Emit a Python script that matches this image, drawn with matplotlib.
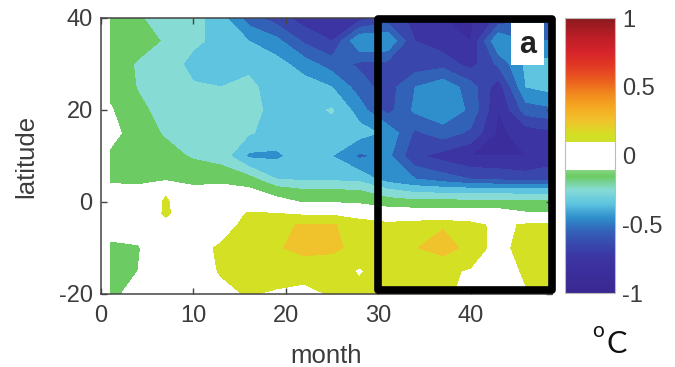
import numpy as np
import matplotlib
matplotlib.use("Agg")
import matplotlib.pyplot as plt
from matplotlib.colors import LinearSegmentedColormap, Normalize
from matplotlib.patches import Rectangle
import matplotlib.cm as cm

plt.rcParams['font.family'] = ['Liberation Sans', 'DejaVu Sans']
plt.rcParams['axes.unicode_minus'] = False

# ---- data: temperature anomaly (oC) by month and latitude ----
months = [1, 4, 7, 10, 13, 16, 19, 22, 25, 28, 31, 34, 37, 40, 43, 46, 49]
latitudes = [-20, -15, -10, -5, -2.5, 0, 2.5, 5, 10, 15, 20, 25, 30, 35, 40]

lat_m20 = [-0.12, -0.07, -0.02, 0.00, 0.07, 0.11, 0.08, 0.07, 0.11, 0.13, 0.13, 0.12, 0.13, 0.05, 0.02, 0.09, 0.12]
lat_m15 = [-0.13, -0.10, -0.05, 0.04, 0.11, 0.16, 0.17, 0.14, 0.14, 0.09, 0.16, 0.17, 0.12, 0.09, 0.03, 0.12, 0.14]
lat_m10 = [-0.13, -0.11, 0.00, 0.05, 0.12, 0.16, 0.19, 0.23, 0.22, 0.17, 0.18, 0.195, 0.24, 0.17, 0.05, 0.16, 0.16]
lat_m5 = [-0.03, -0.04, 0.06, 0.02, 0.03, 0.15, 0.18, 0.21, 0.21, 0.15, 0.14, 0.17, 0.19, 0.15, 0.06, 0.12, 0.12]
lat_m2p5 = [-0.04, -0.03, 0.12, 0.00, 0.03, 0.11, 0.10, 0.08, 0.08, 0.05, -0.04, -0.04, -0.04, -0.04, -0.05, -0.09, -0.09]
lat_0 = [-0.05, -0.04, 0.12, -0.02, 0.02, 0.03, -0.06, -0.11, -0.11, -0.13, -0.15, -0.17, -0.17, -0.17, -0.17, -0.18, -0.18]
lat_2p5 = [-0.07, -0.07, 0.08, -0.07, -0.05, -0.08, -0.15, -0.19, -0.19, -0.20, -0.28, -0.33, -0.34, -0.35, -0.35, -0.36, -0.36]
lat_5 = [-0.12, -0.13, -0.13, -0.14, -0.14, -0.16, -0.30, -0.32, -0.32, -0.33, -0.45, -0.50, -0.55, -0.60, -0.62, -0.65, -0.62]
lat_10 = [-0.12, -0.15, -0.17, -0.21, -0.24, -0.42, -0.42, -0.35, -0.40, -0.52, -0.47, -0.68, -0.74, -0.80, -0.80, -0.80, -0.76]
lat_15 = [-0.06, -0.16, -0.21, -0.23, -0.25, -0.29, -0.34, -0.35, -0.35, -0.36, -0.42, -0.62, -0.55, -0.62, -0.82, -0.76, -0.72]
lat_20 = [-0.09, -0.18, -0.23, -0.25, -0.26, -0.27, -0.33, -0.34, -0.29, -0.45, -0.64, -0.48, -0.42, -0.52, -0.80, -0.55, -0.52]
lat_25 = [-0.13, -0.205, -0.25, -0.29, -0.30, -0.28, -0.34, -0.35, -0.40, -0.55, -0.65, -0.50, -0.43, -0.55, -0.76, -0.40, -0.36]
lat_30 = [-0.15, -0.21, -0.25, -0.33, -0.34, -0.32, -0.36, -0.45, -0.55, -0.62, -0.63, -0.66, -0.64, -0.74, -0.58, -0.38, -0.36]
lat_35 = [-0.15, -0.16, -0.21, -0.28, -0.33, -0.40, -0.47, -0.62, -0.70, -0.40, -0.40, -0.70, -0.76, -0.80, -0.40, -0.50, -0.50]
lat_40 = [-0.15, -0.19, -0.24, -0.26, -0.36, -0.55, -0.65, -0.75, -0.78, -0.74, -0.66, -0.72, -0.80, -0.82, -0.68, -0.62, -0.60]

anomaly = np.array([lat_m20, lat_m15, lat_m10, lat_m5, lat_m2p5, lat_0, lat_2p5,
                    lat_5, lat_10, lat_15, lat_20, lat_25, lat_30, lat_35, lat_40])

x_ticks = [0, 10, 20, 30, 40]
y_ticks = [-20, 0, 20, 40]
cbar_ticks = [-1, -0.5, 0, 0.5, 1]
cbar_labels = ['-1', '-0.5', '0', '0.5', '1']

# ---- colour scale: jet-like with a white band around zero ----
stops = [
    (-1.0, '#3a2890'), (-0.85, '#3b2e9c'), (-0.75, '#3c34a2'), (-0.65, '#3947ad'),
    (-0.55, '#3262b8'), (-0.45, '#2f90cc'), (-0.35, '#5ec4df'), (-0.25, '#86dcd6'),
    (-0.15, '#6ccb62'), (-0.1001, '#8ad68a'), (-0.1, '#ffffff'), (0.1, '#ffffff'),
    (0.1001, '#cfdf2a'), (0.15, '#d3e024'), (0.25, '#f0c42c'), (0.35, '#f5aa22'),
    (0.45, '#f2881e'), (0.55, '#ea5c1e'), (0.65, '#e23a24'), (0.75, '#d6242a'),
    (0.85, '#c01e28'), (1.0, '#8c1a1e'),
]
cmap = LinearSegmentedColormap.from_list(
    'anom', [((v + 1) / 2, c) for v, c in stops], N=512)
norm = Normalize(-1, 1)
levels = np.linspace(-1, 1, 21)

text_col = '#3c3c3c'
fig = plt.figure(figsize=(6.75, 3.67), dpi=100)
ax = fig.add_axes([0.1496, 0.199, 0.668, 0.752])

ax.contourf(months, latitudes, anomaly, levels=levels, cmap=cmap, norm=norm)
ax.set_xlim(0, 48.8)
ax.set_ylim(-20, 40)
ax.set_xticks(x_ticks)
ax.set_yticks(y_ticks)
ax.tick_params(direction='in', length=4, width=1, colors='#444444',
               labelcolor=text_col, labelsize=17, top=True, right=True)
ax.tick_params(axis='x', pad=8)
ax.tick_params(axis='y', pad=6)
for s in ax.spines.values():
    s.set_color('#444444')
    s.set_linewidth(1.1)
ax.set_xlabel('month', fontsize=18.5, color=text_col, labelpad=12)
ax.set_ylabel('latitude', fontsize=18.5, color=text_col, labelpad=15)

# highlighted period
ax.add_patch(Rectangle((30, -19.1), 18.8, 58.9, fill=False, edgecolor='black',
                       linewidth=5.5, joinstyle='round', clip_on=False, zorder=5))
# panel tag
ax.add_patch(Rectangle((44.4, 29.8), 3.5, 9.1, facecolor='white',
                       edgecolor='none', zorder=6))
ax.text(46.15, 34.2, 'a', fontsize=22, fontweight='bold', color='#222222',
        ha='center', va='center', zorder=7)

# colour bar
cax = fig.add_axes([0.837, 0.2016, 0.074, 0.749])
sm = cm.ScalarMappable(norm=norm, cmap=cmap)
cb = fig.colorbar(sm, cax=cax, ticks=cbar_ticks)
cb.ax.set_yticklabels(cbar_labels)
cb.ax.tick_params(length=0, labelsize=17, labelcolor=text_col, pad=5)
cb.outline.set_edgecolor('#bbbbbb')
cb.outline.set_linewidth(0.8)

# unit label
fig.text(0.877, 0.083, 'o', fontsize=15, family='Lato', color='#111111',
         ha='left', va='baseline')
fig.text(0.899, 0.038, 'C', fontsize=22, family='Lato', color='#111111',
         ha='left', va='baseline')

fig.savefig('out.png', dpi=100)
